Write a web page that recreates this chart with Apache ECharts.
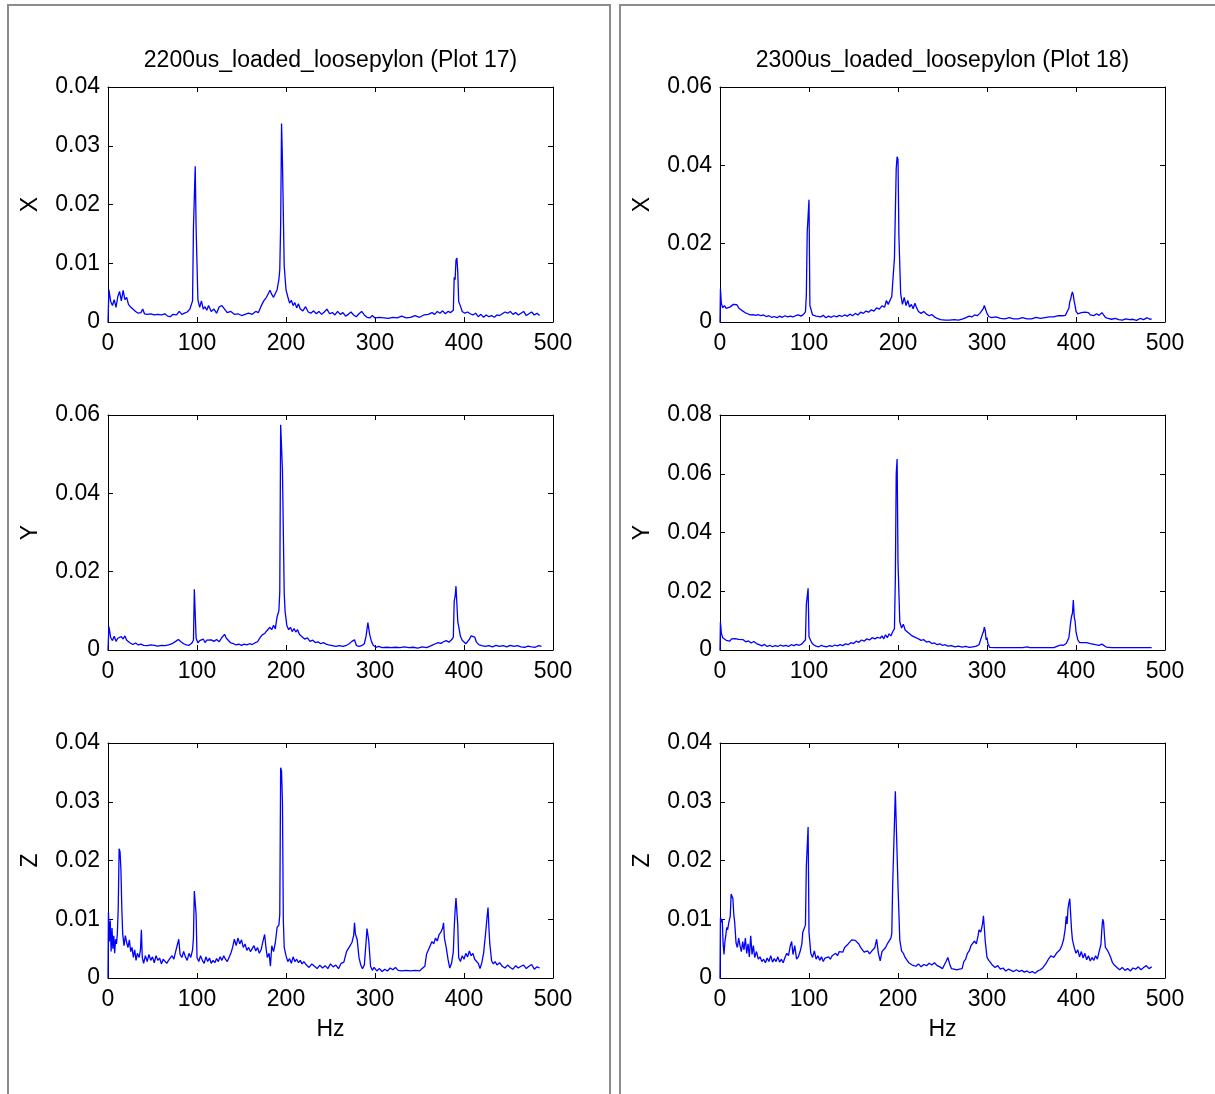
<!DOCTYPE html>
<html>
<head>
<meta charset="utf-8">
<script src="https://cdn.jsdelivr.net/npm/echarts@6/dist/echarts.min.js"></script>
<style>
html,body{margin:0;padding:0;background:#fff;}
#chart{width:1215px;height:1094px;}
</style>
</head>
<body>
<div id="chart"></div>
<script>
const titles = ['2200us_loaded_loosepylon (Plot 17)', '2300us_loaded_loosepylon (Plot 18)'];
const axisNames = ['X', 'Y', 'Z'];
const xTicks = [0, 100, 200, 300, 400, 500];
const yMax17 = [0.04, 0.06, 0.04];
const yStep17 = [0.01, 0.02, 0.01];
const yMax18 = [0.06, 0.08, 0.04];
const yStep18 = [0.02, 0.02, 0.01];

const p17X = [[0,0],[1,0.0055],[3,0.0035],[5,0.0028],[7,0.0038],[9,0.0025],[11,0.0043],[13,0.0052],[15,0.0036],[17,0.0054],[19,0.0038],[21,0.0042],[23,0.003],[25,0.0026],[28,0.0022],[31,0.0018],[34,0.0015],[37,0.0016],[39,0.0022],[41,0.0014],[44,0.0013],[48,0.0014],[52,0.0012],[56,0.0013],[60,0.0012],[64,0.0014],[67,0.001],[70,0.0009],[73,0.0013],[77,0.0012],[80,0.0018],[83,0.0013],[86,0.0015],[89,0.0017],[92,0.0022],[95,0.0036],[96,0.016],[97,0.0158],[98,0.0265],[99,0.016],[100,0.0162],[101,0.0038],[103,0.0025],[105,0.0036],[107,0.0022],[109,0.0026],[111,0.002],[113,0.0028],[116,0.0018],[119,0.0022],[122,0.0015],[125,0.0026],[128,0.0028],[131,0.0022],[134,0.0016],[138,0.0018],[142,0.0013],[146,0.0014],[150,0.0011],[154,0.0013],[158,0.0015],[162,0.0013],[166,0.0018],[169,0.0016],[172,0.0027],[175,0.0036],[178,0.0042],[180,0.0045],[182,0.0054],[184,0.0047],[186,0.0042],[188,0.0043],[190,0.0055],[192,0.0072],[193,0.0089],[194,0.0165],[195,0.0338],[196,0.0275],[197,0.0272],[198,0.0095],[200,0.0055],[202,0.0043],[204,0.0032],[206,0.0037],[208,0.0028],[210,0.0033],[212,0.0024],[214,0.0031],[216,0.0022],[219,0.0019],[222,0.0026],[225,0.0017],[228,0.0015],[231,0.0019],[234,0.0014],[237,0.0018],[240,0.0013],[243,0.0017],[246,0.0022],[249,0.0014],[252,0.0016],[255,0.0012],[258,0.0018],[261,0.0013],[264,0.0016],[267,0.001],[270,0.0013],[273,0.0017],[276,0.0012],[279,0.0009],[282,0.0014],[285,0.0018],[288,0.0012],[291,0.0008],[294,0.0007],[297,0.0011],[300,0.0007],[305,0.0008],[310,0.0007],[315,0.0006],[320,0.0008],[325,0.0007],[330,0.001],[335,0.0007],[340,0.0008],[345,0.0011],[350,0.0008],[355,0.0012],[360,0.0013],[364,0.0016],[367,0.0013],[370,0.0018],[373,0.0015],[376,0.0019],[379,0.0014],[382,0.0018],[385,0.0016],[388,0.002],[389,0.0076],[390,0.0072],[391,0.0105],[392,0.0109],[393,0.0085],[394,0.0035],[396,0.0027],[398,0.0018],[401,0.0015],[404,0.0017],[407,0.0014],[410,0.0012],[413,0.0015],[416,0.0009],[419,0.0013],[422,0.0008],[425,0.0012],[428,0.0009],[431,0.0011],[434,0.0008],[437,0.0012],[440,0.0011],[443,0.0014],[446,0.0017],[449,0.0015],[452,0.0018],[455,0.0013],[458,0.0016],[461,0.0012],[464,0.0015],[467,0.0018],[470,0.0011],[473,0.0014],[476,0.0017],[479,0.0012],[482,0.0015],[485,0.0011]];

const p17Y = [[0,0],[1,0.006],[3,0.0032],[5,0.0024],[7,0.0035],[9,0.0022],[11,0.003],[13,0.0026],[15,0.0034],[17,0.0028],[19,0.0036],[21,0.0025],[23,0.0028],[25,0.0018],[28,0.0014],[31,0.0018],[34,0.0013],[37,0.0015],[40,0.0012],[44,0.0011],[48,0.0013],[52,0.0012],[56,0.001],[60,0.0012],[64,0.0011],[68,0.0013],[72,0.0016],[76,0.0022],[79,0.0027],[82,0.0021],[85,0.0016],[88,0.0013],[91,0.0012],[94,0.0017],[96,0.0025],[97,0.0155],[98,0.0155],[99,0.003],[101,0.0018],[103,0.0024],[105,0.002],[107,0.0028],[109,0.0019],[111,0.0025],[113,0.0021],[116,0.0026],[119,0.0022],[122,0.0027],[125,0.0021],[128,0.0032],[131,0.004],[133,0.003],[135,0.0026],[138,0.0018],[141,0.0016],[144,0.0013],[147,0.0015],[150,0.0012],[153,0.0015],[156,0.0013],[159,0.0016],[162,0.0014],[165,0.0018],[168,0.0021],[171,0.0032],[173,0.0038],[176,0.0042],[178,0.0048],[180,0.0043],[182,0.0058],[184,0.0052],[186,0.0063],[188,0.0054],[190,0.0085],[192,0.01],[193,0.0148],[194,0.0575],[195,0.0572],[196,0.046],[197,0.0462],[198,0.0145],[199,0.0098],[201,0.0062],[203,0.0052],[205,0.0058],[207,0.0047],[209,0.0055],[211,0.0046],[213,0.0052],[215,0.004],[218,0.0034],[221,0.0028],[224,0.0031],[227,0.0022],[230,0.0025],[233,0.0019],[236,0.0021],[239,0.0016],[242,0.0019],[245,0.0015],[248,0.0013],[252,0.0011],[256,0.0009],[260,0.0011],[264,0.0009],[268,0.0012],[271,0.0016],[274,0.0022],[277,0.0026],[279,0.0012],[282,0.0009],[285,0.0011],[288,0.0016],[290,0.0036],[292,0.007],[293,0.0068],[294,0.004],[296,0.0022],[298,0.0012],[301,0.0007],[304,0.0009],[308,0.0006],[313,0.0007],[318,0.0006],[323,0.0007],[328,0.0006],[333,0.0008],[338,0.0006],[343,0.0007],[348,0.0005],[353,0.0008],[358,0.0006],[362,0.001],[365,0.0013],[368,0.0016],[371,0.0019],[374,0.0017],[377,0.0021],[380,0.0024],[383,0.002],[386,0.0026],[388,0.0033],[389,0.0125],[390,0.0136],[391,0.0163],[392,0.0168],[393,0.0073],[394,0.0068],[396,0.0035],[398,0.0025],[400,0.002],[402,0.0016],[404,0.0014],[406,0.0027],[408,0.0036],[410,0.0037],[412,0.0033],[414,0.002],[417,0.0013],[420,0.0011],[424,0.0009],[428,0.0011],[432,0.0008],[436,0.0012],[440,0.0009],[444,0.0011],[448,0.0008],[452,0.0012],[456,0.0009],[460,0.0011],[464,0.0008],[468,0.0007],[472,0.001],[476,0.0008],[480,0.0007],[484,0.0011],[487,0.0009]];

const p17Z = [[0,0],[0.5,0.0112],[1.5,0.0062],[2.5,0.0098],[3.5,0.0045],[4.5,0.0085],[5.5,0.005],[6.5,0.0072],[7.5,0.0042],[8.5,0.0066],[9.5,0.0058],[10.5,0.0075],[11.5,0.012],[12.5,0.022],[13.5,0.0215],[14.5,0.0186],[15.5,0.012],[16.5,0.0075],[18,0.0055],[19.5,0.0072],[21,0.006],[22.5,0.0052],[24,0.0065],[25.5,0.0045],[27,0.0052],[28.5,0.0035],[30,0.0048],[31.5,0.003],[33,0.0042],[35,0.0035],[36.5,0.0048],[37.5,0.0082],[38.5,0.0035],[40,0.0025],[42,0.0038],[44,0.0028],[46,0.004],[48,0.003],[50,0.0036],[52,0.0026],[54,0.0038],[56,0.003],[58,0.0034],[60,0.0024],[62,0.0032],[64,0.0035],[66,0.0025],[68,0.003],[70,0.0028],[72,0.0038],[74,0.0032],[76,0.0045],[78,0.0042],[79.5,0.0066],[81,0.004],[83,0.0035],[85,0.0045],[87,0.0036],[89,0.003],[91,0.0042],[93,0.0035],[95,0.0048],[96,0.0068],[97,0.0148],[98,0.0145],[99,0.0108],[100,0.0035],[102,0.0028],[104,0.0038],[106,0.003],[108,0.0025],[110,0.0036],[112,0.0028],[114,0.0034],[116,0.0025],[118,0.003],[120,0.0026],[122,0.0033],[124,0.0028],[126,0.0036],[128,0.003],[130,0.0038],[132,0.0032],[134,0.0028],[136,0.0035],[138,0.0042],[140,0.0052],[142,0.0066],[144,0.0055],[146,0.0068],[148,0.0058],[150,0.0065],[152,0.0052],[154,0.0058],[156,0.0047],[158,0.0052],[160,0.0045],[162,0.005],[164,0.0055],[166,0.0046],[168,0.0052],[170,0.0042],[172,0.0048],[174,0.0062],[176,0.0074],[177.5,0.0052],[179,0.0035],[181,0.0042],[182.5,0.002],[184,0.0055],[186,0.0045],[188,0.006],[190,0.0086],[192,0.009],[193,0.0108],[194,0.0358],[195,0.0352],[196,0.03],[197,0.0098],[198,0.0052],[200,0.0038],[202,0.0028],[204,0.0033],[206,0.0025],[208,0.0036],[210,0.0028],[212,0.0032],[214,0.0026],[216,0.003],[218,0.0024],[220,0.0028],[223,0.0022],[226,0.0018],[229,0.0024],[232,0.002],[235,0.0016],[238,0.0022],[241,0.0017],[244,0.0021],[247,0.0016],[250,0.0024],[253,0.0019],[256,0.0022],[259,0.0016],[262,0.0025],[265,0.0027],[268,0.0045],[270,0.0042],[272,0.0055],[274,0.006],[276,0.0072],[277,0.0094],[278,0.0075],[280,0.0065],[282,0.0035],[284,0.0022],[286,0.0016],[288,0.0022],[290,0.0062],[291,0.0084],[292,0.0082],[293,0.0063],[295,0.002],[297,0.0013],[299,0.0018],[302,0.0012],[305,0.0016],[308,0.0011],[311,0.0015],[314,0.0012],[317,0.0017],[320,0.0014],[323,0.0018],[326,0.0013],[330,0.0012],[335,0.0013],[340,0.0012],[345,0.0013],[350,0.0012],[353,0.0016],[356,0.002],[358,0.0041],[360,0.0042],[362,0.0055],[364,0.0062],[366,0.0058],[368,0.0068],[370,0.0063],[372,0.0074],[374,0.0078],[376,0.0085],[377,0.0094],[378,0.0068],[380,0.0052],[382,0.0032],[384,0.0017],[386,0.0025],[388,0.0045],[389,0.0085],[390,0.0115],[391,0.0136],[392,0.0138],[393,0.009],[394,0.0035],[396,0.0028],[398,0.0038],[400,0.0032],[402,0.0042],[404,0.0036],[406,0.0046],[408,0.0038],[410,0.0042],[412,0.0032],[414,0.0035],[416,0.0025],[418,0.0016],[420,0.0026],[422,0.0042],[424,0.0072],[425,0.0088],[426,0.0105],[427,0.012],[428,0.0085],[429,0.0058],[431,0.0029],[433,0.0024],[435,0.0028],[437,0.0022],[440,0.0026],[443,0.002],[446,0.0017],[449,0.0022],[452,0.0018],[455,0.0015],[458,0.0021],[461,0.0017],[464,0.002],[467,0.0022],[470,0.0016],[473,0.002],[476,0.0023],[479,0.0015],[482,0.0019],[485,0.0017]];

const p18X = [[0,0],[0.5,0.0085],[1.5,0.0048],[3,0.0036],[5,0.0042],[7,0.0035],[9,0.004],[11,0.0038],[13,0.0042],[15,0.0045],[17,0.004],[19,0.0044],[21,0.0036],[23,0.0032],[25,0.0029],[28,0.0024],[31,0.0021],[34,0.0018],[37,0.0019],[40,0.0017],[43,0.0019],[46,0.0016],[49,0.0018],[52,0.0014],[55,0.0016],[58,0.0012],[61,0.0014],[64,0.0011],[67,0.0015],[70,0.0012],[73,0.0016],[76,0.0013],[79,0.0015],[82,0.0013],[85,0.0016],[88,0.0018],[91,0.0015],[94,0.002],[96,0.0026],[97,0.0068],[98,0.023],[99,0.0228],[100,0.0312],[101,0.0042],[102,0.0038],[104,0.0018],[106,0.0023],[108,0.0015],[110,0.0019],[113,0.0013],[116,0.0017],[119,0.0011],[122,0.0015],[125,0.0012],[128,0.0016],[131,0.0013],[134,0.0017],[137,0.0014],[140,0.0018],[143,0.0015],[146,0.002],[149,0.0016],[152,0.0022],[155,0.0018],[158,0.0025],[161,0.0022],[164,0.0028],[167,0.0025],[170,0.0031],[173,0.0028],[176,0.0036],[179,0.0033],[182,0.0041],[185,0.0038],[187,0.0055],[189,0.0045],[191,0.005],[193,0.0065],[195,0.0068],[196,0.0163],[197,0.0165],[198,0.0392],[199,0.0422],[200,0.0415],[201,0.022],[202,0.0218],[203,0.0072],[205,0.0045],[207,0.0063],[209,0.0042],[211,0.0055],[213,0.0038],[215,0.0045],[217,0.0034],[219,0.0048],[221,0.0036],[223,0.0027],[226,0.0022],[229,0.0027],[232,0.002],[235,0.0016],[238,0.0019],[241,0.0013],[244,0.0009],[248,0.0006],[253,0.0005],[258,0.0005],[263,0.0006],[268,0.0005],[273,0.0008],[277,0.0012],[280,0.0015],[283,0.0013],[286,0.0018],[289,0.0016],[292,0.0022],[294,0.0025],[296,0.0035],[297,0.0042],[298,0.0038],[300,0.0022],[302,0.0014],[305,0.0011],[310,0.0013],[315,0.0009],[320,0.0008],[325,0.0011],[330,0.0008],[335,0.0008],[340,0.0011],[345,0.0008],[350,0.0008],[355,0.0012],[360,0.0009],[365,0.0011],[370,0.0013],[375,0.0013],[380,0.0016],[385,0.0016],[388,0.0017],[390,0.0022],[392,0.0035],[393,0.0052],[394,0.0058],[395,0.007],[396,0.0077],[397,0.0068],[398,0.0052],[399,0.0042],[400,0.0028],[402,0.0021],[404,0.0018],[406,0.0024],[408,0.0019],[410,0.0025],[412,0.002],[414,0.0024],[416,0.0018],[418,0.0022],[420,0.0016],[423,0.0021],[426,0.0017],[429,0.0024],[431,0.0018],[433,0.0012],[436,0.0009],[440,0.0007],[444,0.0009],[448,0.0006],[452,0.0005],[456,0.0008],[460,0.0006],[464,0.0007],[468,0.0004],[472,0.0009],[476,0.0006],[480,0.0011],[483,0.0007],[485,0.0008]];

const p18Y = [[0,0],[0.5,0.0095],[1.5,0.0058],[3,0.0042],[5,0.0048],[7,0.0033],[9,0.0038],[11,0.003],[13,0.0038],[15,0.0032],[17,0.0039],[19,0.0034],[21,0.0036],[23,0.003],[26,0.0035],[29,0.0028],[32,0.0031],[35,0.0024],[38,0.0029],[41,0.0022],[44,0.0018],[47,0.0014],[50,0.0019],[53,0.0012],[56,0.0016],[59,0.0011],[62,0.0015],[65,0.0012],[68,0.0017],[71,0.0013],[74,0.0016],[77,0.0012],[80,0.0018],[83,0.0015],[86,0.0019],[89,0.0016],[92,0.0021],[94,0.0025],[96,0.0035],[97,0.0155],[98,0.015],[99,0.021],[100,0.0045],[101,0.0042],[103,0.0025],[105,0.0018],[108,0.0013],[111,0.0011],[114,0.0016],[117,0.0012],[120,0.0011],[123,0.0015],[126,0.0012],[129,0.0017],[132,0.0014],[135,0.0018],[138,0.0015],[141,0.0021],[144,0.0018],[147,0.0025],[150,0.0022],[153,0.003],[156,0.0026],[159,0.0034],[162,0.003],[165,0.0038],[168,0.0034],[171,0.0042],[174,0.0038],[177,0.0043],[180,0.004],[182,0.0048],[184,0.0038],[186,0.0052],[188,0.0042],[190,0.0055],[192,0.0048],[194,0.0062],[196,0.0072],[197,0.024],[198,0.06],[199,0.065],[200,0.0298],[201,0.0295],[202,0.0096],[204,0.0075],[206,0.0088],[208,0.0068],[210,0.007],[212,0.0058],[214,0.0052],[216,0.0048],[218,0.0045],[220,0.0042],[223,0.0038],[226,0.0033],[229,0.0035],[232,0.0027],[235,0.0029],[238,0.0022],[241,0.0024],[244,0.0018],[247,0.0021],[250,0.0016],[253,0.0018],[256,0.0013],[260,0.0015],[264,0.0011],[268,0.0013],[272,0.001],[276,0.0012],[280,0.0009],[284,0.0011],[288,0.0013],[291,0.0018],[293,0.0024],[295,0.0055],[296,0.0062],[297,0.0078],[298,0.0066],[299,0.0035],[300,0.0042],[301,0.0022],[303,0.0009],[310,0.0008],[320,0.0008],[330,0.0008],[340,0.0008],[345,0.0011],[348,0.0008],[360,0.0008],[370,0.0008],[372,0.0011],[375,0.0008],[377,0.0011],[380,0.0014],[383,0.0017],[386,0.0016],[389,0.0022],[391,0.0028],[392,0.0042],[393,0.0068],[394,0.0095],[395,0.0115],[396,0.0125],[397,0.017],[398,0.0112],[399,0.0098],[400,0.0062],[402,0.0035],[404,0.0025],[408,0.0025],[412,0.0025],[416,0.0022],[418,0.0018],[422,0.0018],[426,0.0016],[429,0.002],[431,0.0016],[434,0.001],[440,0.0008],[450,0.0008],[460,0.0008],[470,0.0008],[480,0.0008],[485,0.0008]];

const p18Z = [[0,0],[0.5,0.0103],[1.5,0.0095],[2.5,0.01],[3.5,0.0058],[4.5,0.004],[5.5,0.0062],[6.5,0.0072],[7.5,0.0086],[8.5,0.0082],[10,0.0095],[11.5,0.0105],[12.5,0.0143],[13.5,0.014],[14.5,0.0135],[15.5,0.0108],[16.5,0.0095],[18,0.006],[19.5,0.0052],[21,0.0068],[22.5,0.0055],[24,0.0045],[25.5,0.0062],[27,0.0048],[28.5,0.0068],[30,0.0042],[31.5,0.0058],[33,0.0036],[34.5,0.0072],[36,0.004],[37.5,0.0055],[39,0.0035],[41,0.0045],[43,0.0032],[45,0.0036],[47,0.0028],[49,0.0032],[51,0.0026],[53,0.0034],[55,0.0028],[57,0.0038],[59,0.0027],[61,0.0033],[63,0.0028],[65,0.0036],[67,0.0027],[69,0.0032],[71,0.0026],[73,0.0035],[75,0.0042],[77,0.0038],[79,0.0055],[80.5,0.0062],[82,0.004],[84,0.0055],[86,0.0032],[88,0.0036],[90,0.0045],[92,0.0058],[93,0.0078],[94,0.0078],[96,0.009],[97,0.019],[98,0.0188],[99,0.0257],[100,0.0078],[101,0.0075],[102,0.0042],[104,0.0035],[106,0.0046],[108,0.0032],[110,0.0038],[112,0.003],[114,0.0036],[116,0.0028],[118,0.0034],[120,0.0031],[122,0.0036],[124,0.0032],[126,0.0038],[128,0.0035],[130,0.0042],[132,0.0038],[134,0.0045],[136,0.0048],[138,0.0044],[140,0.0052],[142,0.0055],[144,0.0058],[146,0.0061],[148,0.0065],[150,0.0068],[152,0.0064],[154,0.0066],[156,0.0058],[158,0.0052],[160,0.0048],[162,0.0044],[164,0.0042],[166,0.0046],[168,0.0041],[170,0.0045],[172,0.0042],[174,0.0052],[176,0.0066],[177,0.0068],[178,0.0042],[180,0.0029],[182,0.0045],[184,0.0042],[186,0.0052],[188,0.0058],[190,0.0057],[192,0.0068],[193,0.0075],[194,0.0157],[196,0.0157],[197,0.0318],[199,0.0318],[200,0.0156],[201,0.0156],[202,0.0065],[204,0.0046],[206,0.0042],[208,0.0035],[210,0.0032],[212,0.0026],[214,0.0028],[216,0.0022],[218,0.0025],[220,0.002],[223,0.0024],[226,0.0019],[229,0.0023],[232,0.0021],[235,0.0025],[238,0.0022],[241,0.0026],[244,0.0021],[247,0.0019],[250,0.0016],[252,0.0022],[254,0.0028],[256,0.0035],[258,0.0024],[260,0.0016],[263,0.0015],[266,0.0014],[269,0.0015],[272,0.0016],[274,0.0028],[276,0.0032],[278,0.0042],[280,0.0046],[282,0.0055],[284,0.0052],[286,0.0063],[288,0.0058],[290,0.0072],[291,0.0082],[293,0.0078],[295,0.0092],[296,0.0106],[297,0.0085],[298,0.0063],[300,0.0035],[302,0.003],[304,0.0026],[306,0.0022],[309,0.0018],[312,0.0021],[315,0.0015],[318,0.0017],[321,0.0012],[324,0.0015],[327,0.0013],[330,0.0011],[333,0.0014],[336,0.0011],[339,0.0013],[342,0.001],[345,0.0012],[348,0.0009],[351,0.0011],[354,0.0008],[357,0.0012],[360,0.0014],[363,0.0018],[366,0.0024],[369,0.0032],[372,0.0038],[375,0.0035],[378,0.0042],[380,0.004],[382,0.0048],[384,0.0055],[386,0.0065],[388,0.0085],[389,0.0105],[390,0.0092],[391,0.0118],[392,0.0128],[393,0.0135],[394,0.0108],[395,0.0082],[396,0.0065],[398,0.0052],[400,0.0042],[402,0.0048],[404,0.0036],[406,0.0045],[408,0.0034],[410,0.0042],[412,0.0031],[414,0.0038],[416,0.0029],[418,0.0035],[420,0.003],[422,0.0038],[424,0.0032],[426,0.0045],[428,0.0057],[429,0.0082],[430,0.01],[431,0.0095],[432,0.0072],[433,0.0052],[435,0.0048],[437,0.0042],[439,0.0035],[441,0.0026],[443,0.0022],[446,0.0018],[449,0.0014],[452,0.0018],[455,0.0013],[458,0.0016],[461,0.0012],[464,0.0017],[467,0.0015],[470,0.0019],[473,0.0014],[476,0.0018],[479,0.0021],[482,0.0016],[485,0.0019]];

const seriesData = [[p17X, p17Y, p17Z], [p18X, p18Y, p18Z]];
const yMaxes = [yMax17, yMax18];
const ySteps = [yStep17, yStep18];

const FONT = 'Liberation Sans, Arial, sans-serif';
const FS = 23;
const panelLeft = [108, 720];
const plotW = 445;
const plotTops = [87, 415, 743];
const plotH = 235;

const chart = echarts.init(document.getElementById('chart'), null, {renderer: 'canvas'});

const grid = [], xAxis = [], yAxis = [], series = [];
const axLine = {show: true, onZero: false, lineStyle: {color: '#000', width: 1}};
const tick = {show: true, inside: true, length: 5, lineStyle: {color: '#000', width: 1}};
const lbl = {color: '#000', fontFamily: FONT, fontSize: FS};

for (let p = 0; p < 2; p++) {
  for (let r = 0; r < 3; r++) {
    const gi = grid.length;
    grid.push({left: panelLeft[p], top: plotTops[r], width: plotW, height: plotH, show: false});
    const xBase = {type: 'value', gridIndex: gi, min: xTicks[0], max: xTicks[xTicks.length - 1],
      interval: xTicks[1] - xTicks[0], splitLine: {show: false}, axisLine: axLine, axisTick: tick};
    xAxis.push(Object.assign({}, xBase, {position: 'bottom',
      axisLabel: Object.assign({margin: 10}, lbl),
      name: r === 2 ? 'Hz' : '', nameLocation: 'middle', nameGap: 40,
      nameTextStyle: {color: '#000', fontFamily: FONT, fontSize: FS}}));
    xAxis.push(Object.assign({}, xBase, {position: 'top', axisLabel: {show: false}}));
    const yBase = {type: 'value', gridIndex: gi, min: 0, max: yMaxes[p][r], interval: ySteps[p][r],
      splitLine: {show: false}, axisLine: axLine, axisTick: tick};
    yAxis.push(Object.assign({}, yBase, {position: 'left',
      axisLabel: Object.assign({margin: 8}, lbl),
      name: axisNames[r], nameLocation: 'middle', nameGap: 66, nameRotate: 90,
      nameTextStyle: {color: '#000', fontFamily: FONT, fontSize: FS}}));
    yAxis.push(Object.assign({}, yBase, {position: 'right', axisLabel: {show: false}}));
    series.push({type: 'line', xAxisIndex: 2 * gi, yAxisIndex: 2 * gi, data: seriesData[p][r],
      showSymbol: false, symbol: 'none', clip: true, animation: false,
      lineStyle: {color: '#0000ff', width: 1.3}});
  }
}

const graphic = [
  {type: 'polyline', shape: {points: [[8, 1094], [8, 5], [610, 5], [610, 1094]]},
    style: {stroke: '#8c8c8c', lineWidth: 2, fill: null}, silent: true},
  {type: 'polyline', shape: {points: [[620, 1094], [620, 5], [1215, 5]]},
    style: {stroke: '#8c8c8c', lineWidth: 2, fill: null}, silent: true}
];
for (let p = 0; p < 2; p++) {
  graphic.push({type: 'text', x: panelLeft[p] + plotW / 2, y: 61,
    style: {text: titles[p], fill: '#000', font: FS + 'px ' + FONT, textAlign: 'center', textVerticalAlign: 'middle'}});
}

chart.setOption({animation: false, backgroundColor: '#fff', grid, xAxis, yAxis, series, graphic});
</script>
</body>
</html>
